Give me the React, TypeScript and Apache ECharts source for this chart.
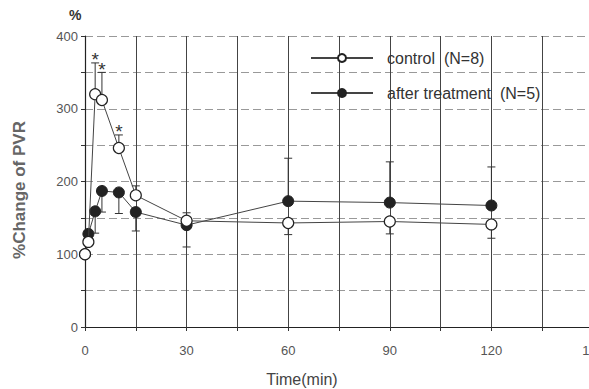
import React, { useEffect, useRef } from "react";
import * as echarts from "echarts";

const times = [0, 1, 3, 5, 10, 15, 30, 60, 90, 120];
const controlValues = [100, 117, 320, 312, 246, 181, 146, 143, 145, 141];
const treatValues = [100, 128, 159, 187, 185, 158, 140, 173, 171, 167];
// error bar ends (one-sided, null = none drawn)
const controlErrEnd = [null, null, 363, 350, 264, 194, 157, 127, 128, 122];
const treatErrEnd = [null, null, 129, 158, 156, 132, 110, 232, 227, 220];
const significant = [false, false, true, true, true, false, false, false, false, false];
const xTickLabels = [0, 30, 60, 90, 120, 150];
const yTickLabels = [0, 100, 200, 300, 400];

const FONT = "'Liberation Sans', Arial, sans-serif";

export default function App() {
  const ref = useRef<HTMLDivElement>(null);
  useEffect(() => {
    document.body.style.margin = "0";
    const chart = echarts.init(ref.current!, null, { renderer: "svg" });
    const errData = (vals: number[], ends: (number | null)[]) =>
      times
        .map((t, i) => (ends[i] == null ? null : [t, vals[i], ends[i]]))
        .filter((d) => d != null);
    const renderErr = (params: any, api: any) => {
      const x = api.value(0);
      const m = api.coord([x, api.value(1)]);
      const e = api.coord([x, api.value(2)]);
      const st = { stroke: "#333", lineWidth: 1 };
      return {
        type: "group",
        children: [
          { type: "line", shape: { x1: m[0], y1: m[1], x2: e[0], y2: e[1] }, style: st },
          { type: "line", shape: { x1: e[0] - 4, y1: e[1], x2: e[0] + 4, y2: e[1] }, style: st },
        ],
      };
    };
    const starData = times
      .map((t, i) => (significant[i] ? [t, controlErrEnd[i]] : null))
      .filter((d) => d != null);
    chart.setOption({
      animation: false,
      backgroundColor: "#fff",
      grid: { left: 85, width: 508, top: 36, bottom: 62, containLabel: false, outerBoundsMode: "none" },
      xAxis: {
        type: "value",
        min: 0,
        max: 150,
        interval: 15,
        axisLine: { show: true, lineStyle: { color: "#222", width: 1.2 } },
        axisTick: { show: true, length: 4, lineStyle: { color: "#333" } },
        axisLabel: {
          color: "#555",
          fontSize: 13,
          fontFamily: FONT,
          margin: 17,
          formatter: (v: number) => (xTickLabels.includes(v) ? String(v) : ""),
        },
        splitLine: { show: true, lineStyle: { color: "#444", width: 1 } },
      },
      yAxis: {
        type: "value",
        min: 0,
        max: 400,
        interval: 50,
        axisLine: { show: true, lineStyle: { color: "#222", width: 1.2 } },
        axisTick: { show: true, length: 4, lineStyle: { color: "#333" } },
        axisLabel: {
          color: "#555",
          fontSize: 13,
          fontFamily: FONT,
          margin: 7,
          formatter: (v: number) => (yTickLabels.includes(v) ? String(v) : ""),
        },
        splitLine: { show: true, lineStyle: { color: "#999", width: 1, type: [8, 4] } },
      },
      legend: {
        orient: "vertical",
        left: 305,
        top: 45,
        itemWidth: 62,
        itemHeight: 10,
        itemGap: 19,
        textStyle: { fontSize: 16, color: "#333", fontFamily: FONT, padding: [0, 0, 0, 9] },
        data: ["control  (N=8)", "after treatment  (N=5)"],
      },
      graphic: [
        { type: "text", left: 69, top: 8, style: { text: "%", fontSize: 14, fontFamily: FONT, fill: "#333", fontWeight: "bold" } },
        {
          type: "text",
          x: 19,
          y: 190,
          rotation: Math.PI / 2,
          style: {
            text: "%Change of PVR",
            fontSize: 17,
            fontWeight: "bold",
            fontFamily: FONT,
            fill: "#666",
            align: "center",
            verticalAlign: "middle",
          },
        },
        {
          type: "text",
          x: 302,
          y: 379,
          style: { text: "Time(min)", fontSize: 16, fontFamily: FONT, fill: "#444", align: "center", verticalAlign: "middle" },
        },
      ],
      series: [
        {
          type: "custom",
          name: "errC",
          renderItem: renderErr,
          data: errData(controlValues, controlErrEnd),
          z: 1,
          silent: true,
        },
        {
          type: "custom",
          name: "errT",
          renderItem: renderErr,
          data: errData(treatValues, treatErrEnd),
          z: 1,
          silent: true,
        },
        {
          type: "custom",
          name: "stars",
          renderItem: (params: any, api: any) => {
            const p = api.coord([api.value(0), api.value(1)]);
            return {
              type: "text",
              x: p[0],
              y: p[1] - 3,
              style: { text: "*", fontSize: 19, fontFamily: FONT, fill: "#333", align: "center", verticalAlign: "middle" },
            };
          },
          data: starData,
          z: 3,
        },
        {
          type: "line",
          name: "control  (N=8)",
          data: times.map((t, i) => [t, controlValues[i]]),
          symbol: "circle",
          symbolSize: 11,
          lineStyle: { color: "#444", width: 1 },
          itemStyle: { color: "#fff", borderColor: "#222", borderWidth: 1.2 },
          z: 5,
        },
        {
          type: "line",
          name: "after treatment  (N=5)",
          data: times.map((t, i) => [t, treatValues[i]]),
          symbol: "circle",
          symbolSize: 11,
          lineStyle: { color: "#444", width: 1 },
          itemStyle: { color: "#222", borderColor: "#222", borderWidth: 1 },
          z: 4,
        },
      ],
    });
    return () => chart.dispose();
  }, []);
  return <div ref={ref} style={{ width: 589, height: 389 }} />;
}
